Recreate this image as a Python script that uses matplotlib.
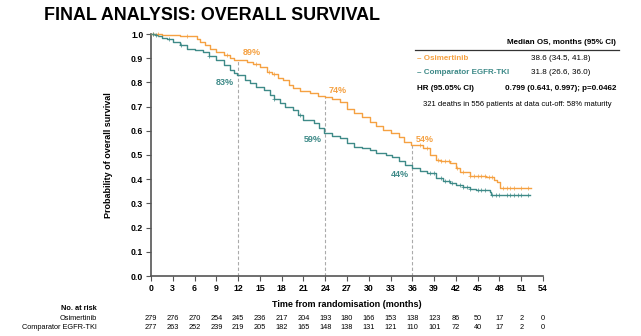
import numpy as np
import matplotlib
matplotlib.use("Agg")
import matplotlib.pyplot as plt

plt.rcParams['font.family'] = ['Liberation Sans', 'DejaVu Sans']

ORANGE = "#F5A142"
TEAL = "#3E8A88"

# Kaplan-Meier steps (months, survival)
osi_t = [0, 1.5, 4, 5.8, 6.3, 6.7, 7.5, 8.1, 9, 10, 10.9, 11.5, 13.2, 14, 15, 16, 16.6, 17.5,
         18.2, 19, 19.6, 20.5, 21.9, 23, 24, 25, 26, 27, 27.9, 29, 30.2, 31, 32, 33, 34.1, 34.8,
         35.8, 37.5, 38.5, 39.3, 40, 41.2, 42, 42.6, 43.9, 46.2, 47.2, 47.6, 48.1, 52.4]
osi_s = [1.0, 0.997, 0.993, 0.99, 0.98, 0.965, 0.955, 0.94, 0.925, 0.912, 0.90, 0.893, 0.885,
         0.875, 0.865, 0.845, 0.835, 0.82, 0.81, 0.79, 0.775, 0.765, 0.755, 0.745, 0.74, 0.73,
         0.72, 0.69, 0.672, 0.655, 0.638, 0.62, 0.603, 0.59, 0.576, 0.555, 0.541, 0.528, 0.50,
         0.479, 0.475, 0.466, 0.445, 0.431, 0.413, 0.408, 0.395, 0.39, 0.362, 0.362]
osi_cens = [0.3, 1, 5, 10.5, 14.5, 16.2, 17, 37, 38, 39.5, 40, 40.5, 41, 42.2, 43,
            44, 44.5, 45, 45.5, 46, 46.5, 47, 48.5, 49, 49.5, 50, 51, 52]

cmp_t = [0, 0.5, 1, 1.5, 2.2, 3, 4, 4.9, 6, 7.2, 8, 9, 10, 10.9, 11.4, 11.8, 13, 13.6, 14.5,
         15.5, 16.4, 17, 17.8, 18.5, 19.6, 20.2, 21, 22.4, 23.2, 23.9, 25, 26, 27, 27.9, 29,
         30.2, 31, 32.4, 33.2, 34.1, 35, 35.9, 37, 38, 39.3, 40.2, 41.2, 42, 43, 44, 44.8,
         46.7, 46.9, 52.2]
cmp_s = [1.0, 0.995, 0.99, 0.985, 0.98, 0.965, 0.955, 0.94, 0.935, 0.927, 0.91, 0.893, 0.87,
         0.85, 0.84, 0.83, 0.81, 0.796, 0.78, 0.769, 0.748, 0.73, 0.714, 0.70, 0.686, 0.665,
         0.645, 0.631, 0.61, 0.59, 0.578, 0.569, 0.55, 0.534, 0.527, 0.52, 0.51, 0.50, 0.49,
         0.476, 0.46, 0.445, 0.435, 0.424, 0.404, 0.393, 0.383, 0.375, 0.369, 0.36, 0.355,
         0.348, 0.335, 0.335]
cmp_cens = [0.3, 0.7, 2.5, 4.2, 8, 17, 20.5, 38.5, 39, 40, 40.5, 41, 41.5, 42.5, 43, 43.5,
            44, 45, 45.5, 46, 47, 47.5, 48, 49, 49.5, 50, 50.5, 51, 52]

risk_times = list(range(0, 55, 3))
osi_risk = [279, 276, 270, 254, 245, 236, 217, 204, 193, 180, 166, 153, 138, 123, 86, 50, 17, 2, 0]
cmp_risk = [277, 263, 252, 239, 219, 205, 182, 165, 148, 138, 131, 121, 110, 101, 72, 40, 17, 2, 0]

landmarks = [12, 24, 36]


def step_value(times, surv, t):
    idx = np.searchsorted(times, t, side="right") - 1
    return np.array(surv)[idx]


W, H = 641, 336
fig = plt.figure(figsize=(W / 100, H / 100), dpi=100)
ax = fig.add_axes([151 / W, 1 - 276 / H, (543 - 151) / W, (276 - 34) / H])

ax.step(osi_t, osi_s, where="post", color=ORANGE, lw=1.0, clip_on=False, zorder=3)
ax.step(cmp_t, cmp_s, where="post", color=TEAL, lw=1.0, clip_on=False, zorder=3)
ax.plot(osi_cens, step_value(osi_t, osi_s, osi_cens), ls="none", marker="+", ms=3.2,
        mew=0.5, color=ORANGE, clip_on=False, zorder=3)
ax.plot(cmp_cens, step_value(cmp_t, cmp_s, cmp_cens), ls="none", marker="+", ms=3.2,
        mew=0.5, color=TEAL, clip_on=False, zorder=3)

for t in landmarks:
    top = step_value(osi_t, osi_s, t)
    ax.plot([t, t], [0, top], color="#AAAAAA", lw=0.8, ls=(0, (3, 2)), zorder=2)

ax.text(12.7, 0.925, "89%", color=ORANGE, fontsize=6.5, fontweight="bold", ha="left", va="center")
ax.text(11.4, 0.80, "83%", color=TEAL, fontsize=6.5, fontweight="bold", ha="right", va="center")
ax.text(24.5, 0.765, "74%", color=ORANGE, fontsize=6.5, fontweight="bold", ha="left", va="center")
ax.text(23.5, 0.565, "59%", color=TEAL, fontsize=6.5, fontweight="bold", ha="right", va="center")
ax.text(36.5, 0.565, "54%", color=ORANGE, fontsize=6.5, fontweight="bold", ha="left", va="center")
ax.text(35.5, 0.42, "44%", color=TEAL, fontsize=6.5, fontweight="bold", ha="right", va="center")

ax.set_xlim(0, 54)
ax.set_ylim(0, 1.0)
ax.set_xticks(risk_times)
ax.set_yticks(np.arange(0, 1.01, 0.1))
ax.set_yticklabels([f"{v:.1f}" for v in np.arange(0, 1.01, 0.1)])
for side in ["top", "right"]:
    ax.spines[side].set_visible(False)
for side in ["left", "bottom"]:
    ax.spines[side].set_color("#555555")
    ax.spines[side].set_linewidth(1.2)
ax.tick_params(direction="out", length=3.5, width=0.8, color="#555555", labelsize=6.3, pad=2)
for lab in ax.get_xticklabels() + ax.get_yticklabels():
    lab.set_fontweight("bold")
ax.set_xlabel("Time from randomisation (months)", fontsize=6.5, fontweight="bold", labelpad=5)
ax.set_ylabel("Probability of overall survival", fontsize=6.5, fontweight="bold", labelpad=13)

# title
fig.text(44 / W, 1 - 16 / H, "FINAL ANALYSIS: OVERALL SURVIVAL", fontsize=12.9,
         fontweight="bold", ha="left", va="center")

# median OS table
fig.text(561 / W, 1 - 43 / H, "Median OS, months (95% CI)", fontsize=5.8, fontweight="bold",
         ha="center", va="center")
fig.add_artist(plt.Line2D([415 / W, 619 / W], [1 - 49.5 / H, 1 - 49.5 / H], color="#333333", lw=0.9))
fig.text(417 / W, 1 - 58.5 / H, "– Osimertinib", fontsize=5.8, fontweight="bold", color=ORANGE,
         ha="left", va="center")
fig.text(561 / W, 1 - 58.5 / H, "38.6 (34.5, 41.8)", fontsize=5.8, ha="center", va="center")
fig.text(417 / W, 1 - 72.5 / H, "– Comparator EGFR-TKI", fontsize=5.8, fontweight="bold", color=TEAL,
         ha="left", va="center")
fig.text(561 / W, 1 - 72.5 / H, "31.8 (26.6, 36.0)", fontsize=5.8, ha="center", va="center")
fig.text(417 / W, 1 - 88 / H, "HR (95.05% CI)", fontsize=5.8, fontweight="bold", ha="left", va="center")
fig.text(561 / W, 1 - 88 / H, "0.799 (0.641, 0.997); p=0.0462", fontsize=5.8, fontweight="bold",
         ha="center", va="center")
fig.text(517 / W, 1 - 104.5 / H, "321 deaths in 556 patients at data cut-off: 58% maturity",
         fontsize=5.5, ha="center", va="center")

# number at risk
fig.text(97 / W, 1 - 309 / H, "No. at risk", fontsize=5.3, fontweight="bold", ha="right", va="center")
fig.text(97 / W, 1 - 318 / H, "Osimertinib", fontsize=5.3, ha="right", va="center")
fig.text(97 / W, 1 - 327.5 / H, "Comparator EGFR-TKI", fontsize=5.3, ha="right", va="center")
for t, a, b in zip(risk_times, osi_risk, cmp_risk):
    xf = (151 + t * (543 - 151) / 54) / W
    fig.text(xf, 1 - 318 / H, str(a), fontsize=5.3, ha="center", va="center")
    fig.text(xf, 1 - 327.5 / H, str(b), fontsize=5.3, ha="center", va="center")

fig.savefig("out.png", dpi=100)
